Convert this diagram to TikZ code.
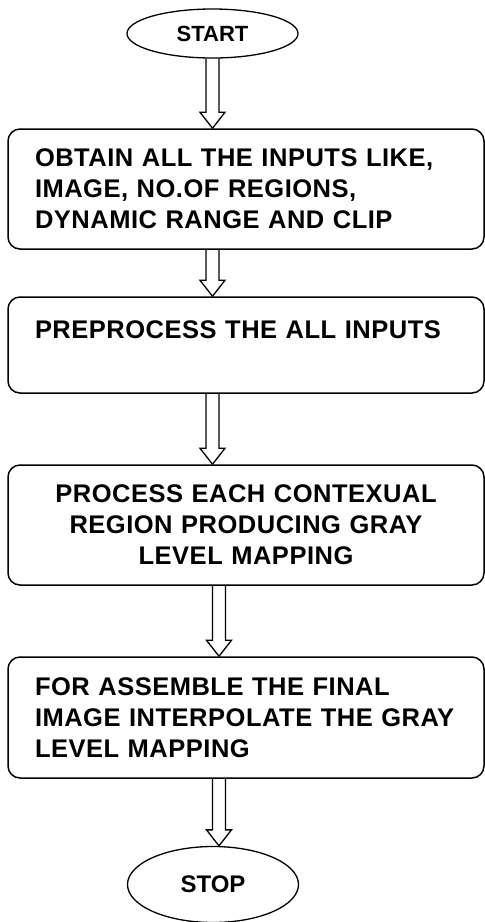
\documentclass[tikz,border=0pt]{standalone}
\usepackage{fontspec}
\setmainfont{Liberation Sans}
\newfontfamily\boxfont[LetterSpace=2]{Liberation Sans}
\usetikzlibrary{shapes.geometric,calc}

% open double-line arrow from a point down to a point
\newcommand{\hollowarrow}[2]{%
  \draw[hollow] let \p1=#1, \p2=#2 in
    (\x1-6.5pt,\y1) -- (\x1-6.5pt,\y2+16pt) -- (\x1-12.5pt,\y2+16pt) -- (\x1,\y2)
    -- (\x1+12.5pt,\y2+16pt) -- (\x1+6.5pt,\y2+16pt) -- (\x1+6.5pt,\y1);}

\begin{document}
\begin{tikzpicture}[x=1pt,y=-1pt,
    box/.style={draw,line width=1.5pt,rounded corners=12pt,minimum width=476pt,
      inner xsep=27pt,text width=422pt,
      font=\boxfont\fontsize{25.5}{31}\selectfont\bfseries},
    oval/.style={draw,line width=1.3pt,ellipse,minimum width=171pt,inner sep=0pt},
    hollow/.style={line width=1.3pt,line join=miter}]
  \useasboundingbox (0,0) rectangle (485,922);
  \node[oval,minimum height=49pt,font=\fontsize{22}{26}\selectfont\bfseries] (start) at (212.5,33.5) {START};
  \node[box,minimum height=120pt,align=left] (b1) at (246,189)
    {OBTAIN ALL THE INPUTS LIKE,\\IMAGE, NO.OF REGIONS,\\DYNAMIC RANGE AND CLIP};
  \node[box,minimum height=96pt,align=left] (b2) at (246,345)
    {PREPROCESS THE ALL INPUTS\\~};
  \node[box,minimum height=120pt,align=center] (b3) at (246,525)
    {PROCESS EACH CONTEXUAL\\REGION PRODUCING GRAY\\LEVEL MAPPING};
  \node[box,minimum height=121pt,align=left] (b4) at (246,717.5)
    {FOR ASSEMBLE THE FINAL\\IMAGE INTERPOLATE THE GRAY\\LEVEL MAPPING};
  \node[oval,minimum height=76pt,font=\fontsize{24}{28}\selectfont\bfseries] (stop) at (213,884.5) {STOP};
  \hollowarrow{(start.south)}{(start.south |- b1.north)}
  \hollowarrow{(start.south |- b1.south)}{(start.south |- b2.north)}
  \hollowarrow{(start.south |- b2.south)}{(start.south |- b3.north)}
  \hollowarrow{([xshift=-27pt]b3.south)}{([xshift=-27pt]b4.north)}
  \hollowarrow{([xshift=-27pt]b4.south)}{([xshift=-27pt]b4.south |- stop.north)}
\end{tikzpicture}
\end{document}
